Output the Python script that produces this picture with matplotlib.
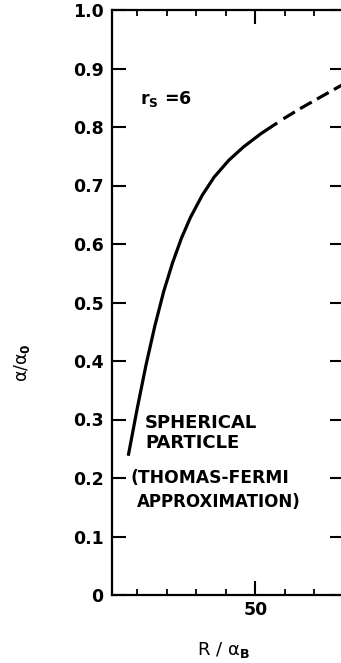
import numpy as np
import matplotlib.pyplot as plt
from matplotlib.ticker import MultipleLocator

# values
solid_x = [7.0, 10.0, 13.0, 16.0, 19.0, 22.0, 25.0, 28.0, 32.0, 36.0, 41.0,
           46.0, 52.0, 57.4]
solid_y = [0.238, 0.318, 0.393, 0.460, 0.519, 0.568, 0.610, 0.645, 0.683,
           0.714, 0.743, 0.766, 0.789, 0.807]
dashed_x = [59.5, 65.0, 72.0, 80.1]
dashed_y = [0.814, 0.831, 0.851, 0.874]

yticks = [0, 0.1, 0.2, 0.3, 0.4, 0.5, 0.6, 0.7, 0.8, 0.9, 1.0]
ytick_labels = ['0', '0.1', '0.2', '0.3', '0.4', '0.5', '0.6', '0.7', '0.8', '0.9', '1.0']

plt.rcParams['font.family'] = ['DejaVu Sans']
plt.rcParams['font.weight'] = 'bold'
plt.rcParams['mathtext.fontset'] = 'custom'
plt.rcParams['mathtext.rm'] = 'DejaVu Sans:bold'
plt.rcParams['mathtext.it'] = 'DejaVu Sans:bold'
plt.rcParams['mathtext.bf'] = 'DejaVu Sans:bold'

fig = plt.figure(figsize=(3.41, 6.63), dpi=100)
ax = fig.add_axes([112 / 341, 68 / 663, 232 / 341, 585 / 663])

ax.plot(solid_x, solid_y, color='black', lw=2.3, solid_capstyle='butt',
        solid_joinstyle='round')
ax.plot(dashed_x, dashed_y, color='black', lw=2.3, dashes=(4.2, 1.9))

ax.set_xlim(1.5, 80)
ax.set_ylim(0, 1.0)

ax.set_xticks([50])
ax.set_xticklabels(['50'])
ax.xaxis.set_minor_locator(MultipleLocator(10))
ax.set_yticks(yticks)
ax.set_yticklabels(ytick_labels)

ax.tick_params(axis='x', which='major', direction='in', length=10, width=1.5,
               top=True, labelsize=12.5, pad=4)
ax.tick_params(axis='x', which='minor', direction='in', length=4.5, width=1.3,
               top=True)
ax.tick_params(axis='y', which='major', direction='in', length=10, width=1.5,
               right=True, labelsize=12.5, pad=6)
for s in ax.spines.values():
    s.set_linewidth(1.6)

ax.set_xlabel(r'R / α$_\mathrm{B}$', fontsize=13)
ax.xaxis.set_label_coords(0.48, -0.077)
ax.set_ylabel(r'α/α$_\mathrm{0}$', fontsize=12.5)
ax.yaxis.set_label_coords(-0.345, 0.398)

ax.text(0.121, 0.839, r'r$_\mathrm{S}$ =6', transform=ax.transAxes,
        fontsize=12.5, va='baseline')
ax.text(0.142, 0.294, 'SPHERICAL', transform=ax.transAxes, fontsize=13,
        va='center')
ax.text(0.142, 0.260, 'PARTICLE', transform=ax.transAxes, fontsize=13,
        va='center')
ax.text(0.078, 0.200, '(THOMAS-FERMI', transform=ax.transAxes, fontsize=12.3,
        va='center')
ax.text(0.108, 0.159, 'APPROXIMATION)', transform=ax.transAxes, fontsize=12,
        va='center')

fig.savefig('out.png', dpi=100)
